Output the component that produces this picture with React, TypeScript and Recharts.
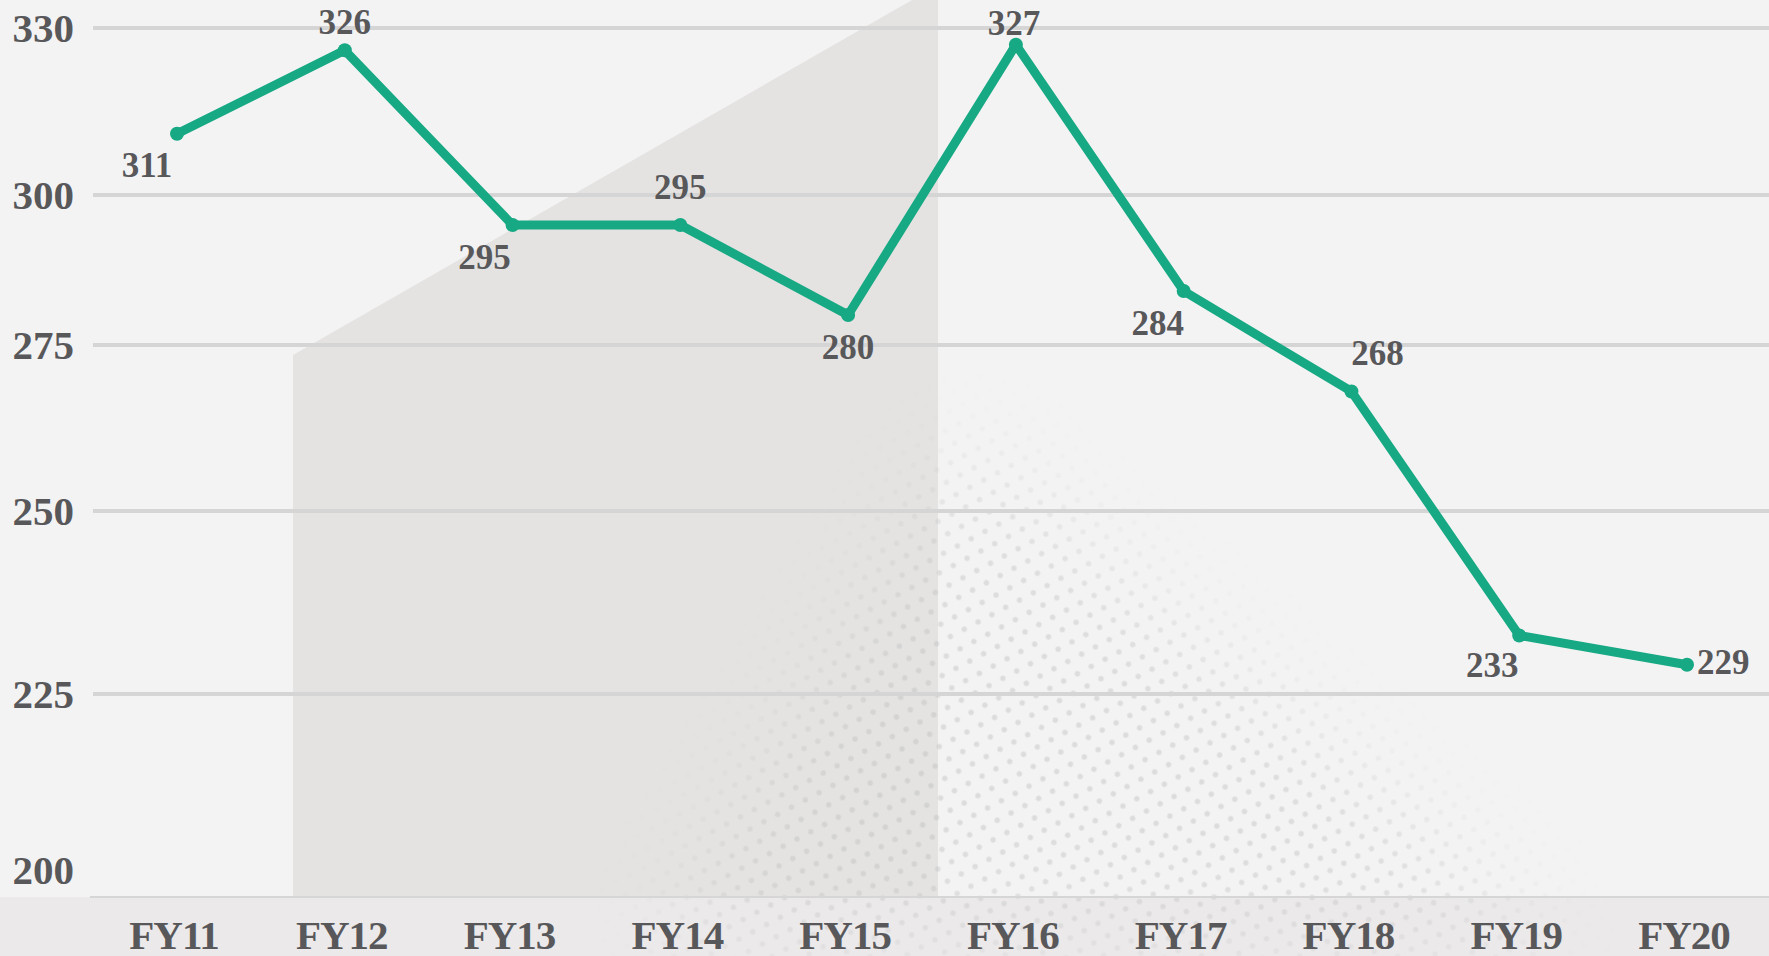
import React from "react"
import {
    LineChart,
    Line,
    XAxis,
    YAxis,
    ReferenceLine,
    LabelList,
} from "recharts"

// values
const years = ["FY11", "FY12", "FY13", "FY14", "FY15", "FY16", "FY17", "FY18", "FY19", "FY20"]
const values = [311, 326, 295, 295, 280, 327, 284, 268, 233, 229]
const yTicks = [200, 225, 250, 275, 300, 330]
const gridValues = [225, 250, 275, 300, 330]

// where each value label sits relative to its point (dx, baseline dy, anchor)
const labelOffsets: [number, number, "middle" | "start"][] = [
    [-30, 43, "middle"],
    [0, -16, "middle"],
    [-28, 44, "middle"],
    [0, -26, "middle"],
    [0, 44, "middle"],
    [-2, -10, "middle"],
    [-26, 44, "middle"],
    [26, -26, "middle"],
    [-27, 42, "middle"],
    [10, 9, "start"],
]

const W = 1769
const H = 956
const PLOT_TOP = 28
const PLOT_BOTTOM = 897

// the printed axis is not evenly spaced, so the y scale is piecewise linear
// (value -> pixel row in the original picture)
const knotValues = [196.16, 200, 225, 250, 275, 300, 330]
const knotRows = [897, 870, 694, 511, 345, 195, 28]
const knotFracs = knotRows.map((r) => (PLOT_BOTTOM - r) / (PLOT_BOTTOM - PLOT_TOP))

const GREEN = "#16a983"
const TEXT = "#58585b"
const FONT = "'Liberation Serif', 'Times New Roman', serif"

const data = years.map((year, i) => ({ year, value: values[i] }))

function piecewiseScale(): any {
    let domain = [knotValues[0], knotValues[knotValues.length - 1]]
    let range = [0, 1]
    const scale: any = (v: number) => {
        let i = 0
        while (i < knotValues.length - 2 && v > knotValues[i + 1]) i++
        const t = (v - knotValues[i]) / (knotValues[i + 1] - knotValues[i])
        const f = knotFracs[i] + t * (knotFracs[i + 1] - knotFracs[i])
        return range[0] + f * (range[1] - range[0])
    }
    scale.domain = (d?: number[]) => {
        if (d === undefined) return domain.slice()
        domain = d.slice()
        return scale
    }
    scale.range = (r?: number[]) => {
        if (r === undefined) return range.slice()
        range = r.slice()
        return scale
    }
    scale.copy = () => {
        const s = piecewiseScale()
        s.domain(domain)
        s.range(range)
        return s
    }
    scale.ticks = () => yTicks.slice()
    return scale
}

const yScale = piecewiseScale()

function YTick({ x, y, payload }: any) {
    return (
        <text x={x - 19} y={y + 14} textAnchor="end" fontFamily={FONT} fontWeight="bold" fontSize={41} fill={TEXT}>
            {payload.value}
        </text>
    )
}

function XTick({ x, y, payload }: any) {
    return (
        <text x={x - 3} y={y + 52} textAnchor="middle" fontFamily={FONT} fontWeight="bold" fontSize={41} letterSpacing={-1} fill={TEXT}>
            {payload.value}
        </text>
    )
}

function ValueLabel({ x, y, value, index }: any) {
    const [dx, dy, anchor] = labelOffsets[index]
    return (
        <text x={x + dx} y={y + dy} textAnchor={anchor} fontFamily={FONT} fontWeight="bold" fontSize={35} fill={TEXT}>
            {value}
        </text>
    )
}

function Backdrop() {
    return (
        <svg width={W} height={H} style={{ position: "absolute", left: 0, top: 0 }}>
            <defs>
                <pattern id="halftone" width="24" height="20" patternUnits="userSpaceOnUse" patternTransform="rotate(12)">
                    <circle cx="6" cy="5" r="2.7" fill="#bdbdbd" />
                    <circle cx="18" cy="15" r="2.7" fill="#bdbdbd" />
                </pattern>
                <filter id="soft" x="-50%" y="-50%" width="200%" height="200%">
                    <feGaussianBlur stdDeviation="45" />
                </filter>
                <mask id="dotsMask">
                    <polygon points="962,440 1560,940 660,940" fill="#fff" fillOpacity="0.42" filter="url(#soft)" />
                </mask>
            </defs>
            <rect x={0} y={0} width={W} height={H} fill="#f4f3f4" />
            <polygon points="293,355 912,0 938,0 938,897 293,897" fill="#e4e3e2" />
            <rect x={0} y={PLOT_BOTTOM} width={W} height={H - PLOT_BOTTOM} fill="#ebe9e9" />
            <rect x={0} y={0} width={W} height={H} fill="url(#halftone)" mask="url(#dotsMask)" />
            <line x1={90} x2={W} y1={PLOT_BOTTOM} y2={PLOT_BOTTOM} stroke="#d6d6d6" strokeWidth={2} />
        </svg>
    )
}

export default function App() {
    return (
        <div style={{ position: "absolute", left: 0, top: 0, width: W, height: H, overflow: "hidden" }}>
            <Backdrop />
            <div style={{ position: "absolute", left: 0, top: 0 }}>
                <LineChart
                    width={W}
                    height={H}
                    data={data}
                    margin={{ top: PLOT_TOP, right: 0, left: 0, bottom: 0 }}
                >
                    <XAxis
                        dataKey="year"
                        height={H - PLOT_BOTTOM}
                        padding={{ left: 84, right: 82 }}
                        axisLine={false}
                        tickLine={false}
                        tickSize={0}
                        tickMargin={0}
                        tick={<XTick />}
                        interval={0}
                    />
                    <YAxis
                        width={93}
                        type="number"
                        scale={yScale}
                        domain={[knotValues[0], 330]}
                        ticks={yTicks}
                        allowDataOverflow
                        axisLine={false}
                        tickLine={false}
                        tickSize={0}
                        tickMargin={0}
                        tick={<YTick />}
                        interval={0}
                    />
                    {gridValues.map((v) => (
                        <ReferenceLine key={v} y={v} stroke="#d5d5d5" strokeWidth={4} ifOverflow="visible" />
                    ))}
                    <Line
                        type="linear"
                        dataKey="value"
                        stroke={GREEN}
                        strokeWidth={9}
                        strokeLinejoin="round"
                        dot={{ r: 7, fill: GREEN, stroke: "none" }}
                        activeDot={false}
                        isAnimationActive={false}
                    >
                        <LabelList dataKey="value" content={<ValueLabel />} />
                    </Line>
                </LineChart>
            </div>
        </div>
    )
}
